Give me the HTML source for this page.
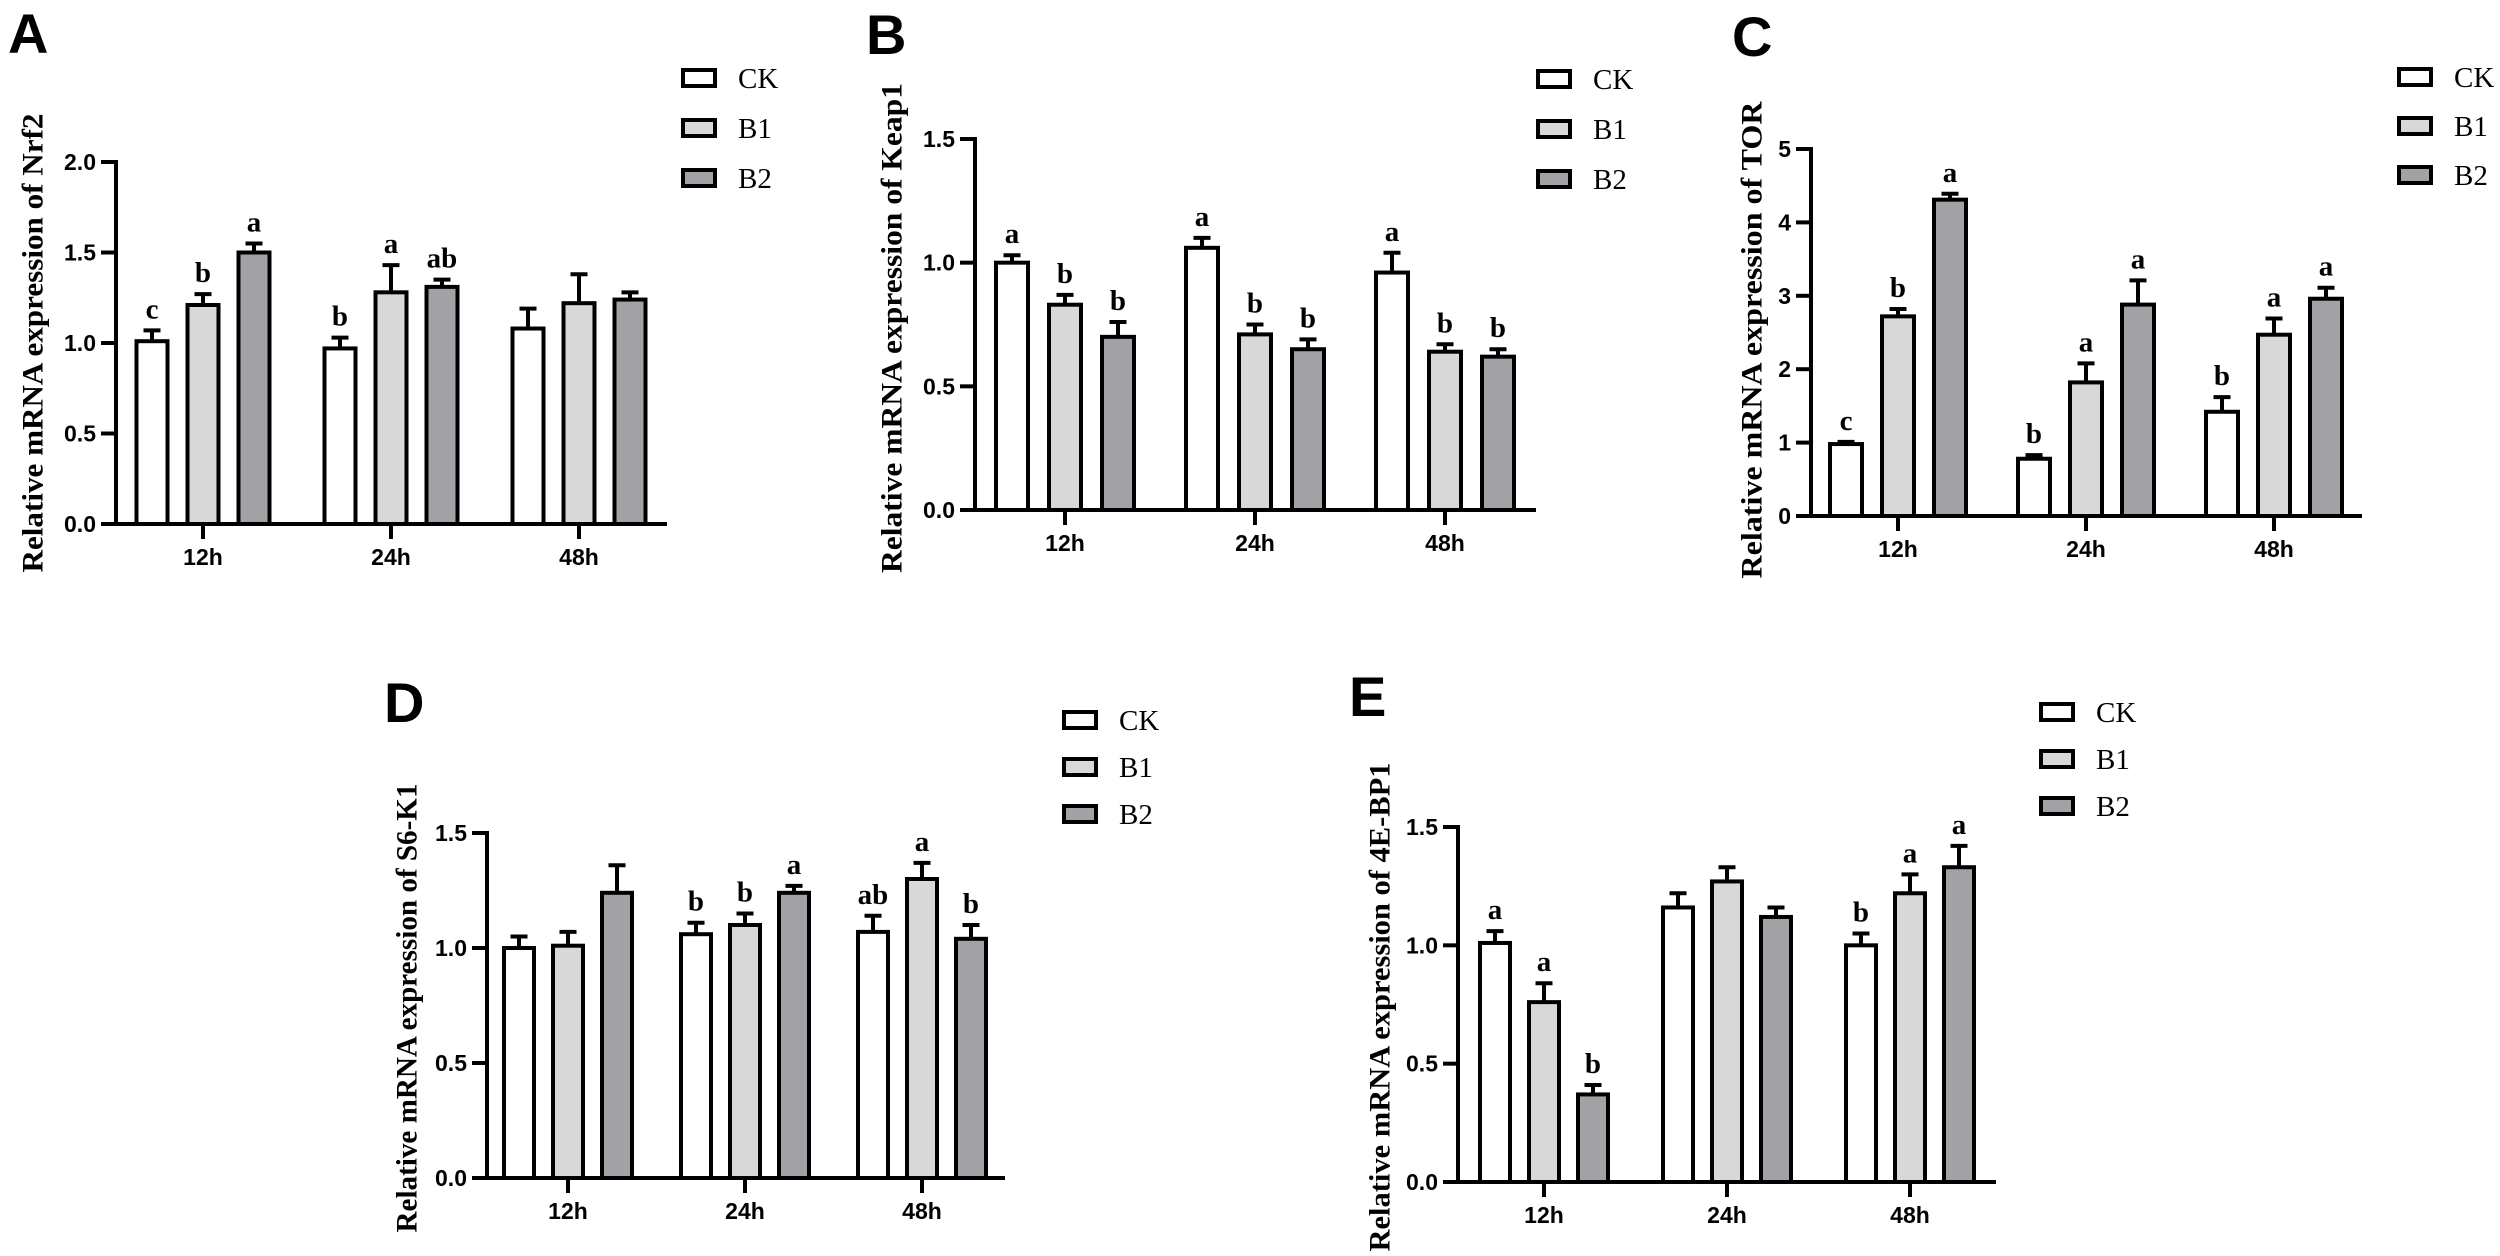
<!DOCTYPE html>
<html><head><meta charset="utf-8">
<style>
html,body{margin:0;padding:0;background:#fff;}
svg{display:block;}
.tick{font-family:"Liberation Sans",sans-serif;font-weight:bold;font-size:23px;}
.ttl{font-family:"Liberation Serif",serif;font-weight:bold;font-size:30px;}
.leg{font-family:"Liberation Serif",serif;font-size:29px;}
.sig{font-family:"Liberation Serif",serif;font-weight:bold;font-size:29px;}
.pl{font-family:"Liberation Sans",sans-serif;font-weight:bold;font-size:56px;}
</style></head>
<body>
<svg id="fig" width="2500" height="1256" viewBox="0 0 2500 1256" xmlns="http://www.w3.org/2000/svg"></svg>
<script>
const categories = ['12h','24h','48h'];
const seriesNames = ['CK','B1','B2'];
// Panel A: Nrf2
const nrf2Mean = [[1.01,1.21,1.50],[0.97,1.28,1.31],[1.08,1.22,1.24]];
const nrf2Err  = [[0.06,0.06,0.05],[0.06,0.15,0.04],[0.11,0.16,0.04]];
const nrf2Sig  = [['c','b','a'],['b','a','ab'],['','','']];
const nrf2Ticks = ['0.0','0.5','1.0','1.5','2.0'];
// Panel B: Keap1
const keap1Mean = [[1.00,0.83,0.70],[1.06,0.71,0.65],[0.96,0.64,0.62]];
const keap1Err  = [[0.03,0.04,0.06],[0.04,0.04,0.04],[0.08,0.03,0.03]];
const keap1Sig  = [['a','b','b'],['a','b','b'],['a','b','b']];
const keap1Ticks = ['0.0','0.5','1.0','1.5'];
// Panel C: TOR
const torMean = [[0.98,2.72,4.31],[0.78,1.82,2.88],[1.42,2.47,2.96]];
const torErr  = [[0.03,0.10,0.08],[0.05,0.26,0.33],[0.20,0.22,0.15]];
const torSig  = [['c','b','a'],['b','a','a'],['b','a','a']];
const torTicks = ['0','1','2','3','4','5'];
// Panel D: S6-K1
const s6k1Mean = [[1.00,1.01,1.24],[1.06,1.10,1.24],[1.07,1.30,1.04]];
const s6k1Err  = [[0.05,0.06,0.12],[0.05,0.05,0.03],[0.07,0.07,0.06]];
const s6k1Sig  = [['','',''],['b','b','a'],['ab','a','b']];
const s6k1Ticks = ['0.0','0.5','1.0','1.5'];
// Panel E: 4E-BP1
const bp1Mean = [[1.01,0.76,0.37],[1.16,1.27,1.12],[1.00,1.22,1.33]];
const bp1Err  = [[0.05,0.08,0.04],[0.06,0.06,0.04],[0.05,0.08,0.09]];
const bp1Sig  = [['a','a','b'],['','',''],['b','a','a']];
const bp1Ticks = ['0.0','0.5','1.0','1.5'];

const fills = ['#ffffff','#d8d8d8','#a2a1a6'];
const NS = 'http://www.w3.org/2000/svg';
const svg = document.getElementById('fig');
function mk(tag, attrs, parent, txt){
  const e = document.createElementNS(NS, tag);
  for (const k in attrs) e.setAttribute(k, attrs[k]);
  if (txt !== undefined) e.textContent = txt;
  parent.appendChild(e);
  return e;
}

function panel(cfg){
  const g = mk('g', {}, svg);
  
  
  const yMax = parseFloat(cfg.ticks[cfg.ticks.length-1]);
  const y = v => cfg.y0 - (v / yMax) * (cfg.y0 - cfg.yTop);
  const xg = i => cfg.g0 + i * cfg.gp;
  // panel letter
  const pl = mk('text', {x: cfg.lx, y: cfg.ly, class: 'pl'}, g, cfg.letter);
  
  
  // y title
  const tt = mk('text', {x: cfg.tx, y: cfg.ty, class: 'ttl', 'text-anchor': 'middle',
    transform: 'rotate(-90 ' + cfg.tx + ' ' + cfg.ty + ')', 'dominant-baseline': 'central',
    textLength: cfg.tl, lengthAdjust: 'spacingAndGlyphs'}, g, cfg.title);
  
  
  // bars
  for (let i = 0; i < categories.length; i++) {
    for (let s = 0; s < 3; s++) {
      const cx = xg(i) + (s - 1) * cfg.bp;
      const v = cfg.mean[i][s], e = cfg.err[i][s];
      const top = y(v);
      const bar = mk('rect', {x: cx - cfg.bw/2, y: top, width: cfg.bw, height: cfg.y0 - top,
        fill: fills[s], stroke: '#000', 'stroke-width': 4}, g);
      
      
      const et = y(v + e);
      const eb = mk('path', {d: 'M' + cx + ' ' + top + 'V' + et + 'M' + (cx - 8.5) + ' ' + et + 'H' + (cx + 8.5),
        stroke: '#000', 'stroke-width': 4, fill: 'none'}, g);
      
      
      if (cfg.sig[i][s]) {
        const st = mk('text', {x: cx, y: et - 12, class: 'sig', 'text-anchor': 'middle'}, g, cfg.sig[i][s]);
        
        
      }
    }
  }
  // axes
  const ya = mk('line', {x1: cfg.ax, y1: cfg.yTop - 2, x2: cfg.ax, y2: cfg.y0 + 2, stroke: '#000', 'stroke-width': 4}, g);
  
  
  const xa = mk('line', {x1: cfg.ax - 2, y1: cfg.y0, x2: cfg.axEnd, y2: cfg.y0, stroke: '#000', 'stroke-width': 4}, g);
  
  
  cfg.ticks.forEach(t => {
    const ty = y(parseFloat(t));
    mk('line', {x1: cfg.ax - 15, y1: ty, x2: cfg.ax, y2: ty, stroke: '#000', 'stroke-width': 4}, g);
    const tl = mk('text', {x: cfg.ax - 20, y: ty + 8, class: 'tick', 'text-anchor': 'end'}, g, t);
    
    
  });
  categories.forEach((c, i) => {
    mk('line', {x1: xg(i), y1: cfg.y0, x2: xg(i), y2: cfg.y0 + 15, stroke: '#000', 'stroke-width': 4}, g);
    const xl = mk('text', {x: xg(i), y: cfg.y0 + 41, class: 'tick', 'text-anchor': 'middle'}, g, c);
    
    
  });
  // legend
  seriesNames.forEach((n, s) => {
    const ry = cfg.legY + s * cfg.legDy;
    const le = mk('g', {}, g);
    
    
    mk('rect', {x: cfg.legX + 2, y: ry - 8, width: 32, height: 16, fill: fills[s], stroke: '#000', 'stroke-width': 4}, le);
    mk('text', {x: cfg.legX + 57, y: ry + 10, class: 'leg'}, le, n);
  });
}

panel({key:'nrf2', letter:'A', lx:8, ly:53, title:'Relative mRNA expression of Nrf2', tx:33, ty:343, tl:459,
  ax:116, axEnd:667, y0:524, yTop:162, g0:203, gp:188, bw:31, bp:51,
  mean:nrf2Mean, err:nrf2Err, sig:nrf2Sig, ticks:nrf2Ticks, legX:681, legY:78, legDy:50});
panel({key:'keap1', letter:'B', lx:866, ly:54, title:'Relative mRNA expression of Keap1', tx:892, ty:328, tl:490,
  ax:975, axEnd:1536, y0:510, yTop:139, g0:1065, gp:190, bw:32, bp:53,
  mean:keap1Mean, err:keap1Err, sig:keap1Sig, ticks:keap1Ticks, legX:1536, legY:79, legDy:50});
panel({key:'tor', letter:'C', lx:1732, ly:56, title:'Relative mRNA expression of TOR', tx:1752, ty:340, tl:477,
  ax:1811, axEnd:2362, y0:516, yTop:149, g0:1898, gp:188, bw:32, bp:52,
  mean:torMean, err:torErr, sig:torSig, ticks:torTicks, legX:2397, legY:77, legDy:49});
panel({key:'s6k1', letter:'D', lx:384, ly:722, title:'Relative mRNA expression of S6-K1', tx:407, ty:1008, tl:449,
  ax:487, axEnd:1005, y0:1178, yTop:833, g0:568, gp:177, bw:30, bp:49,
  mean:s6k1Mean, err:s6k1Err, sig:s6k1Sig, ticks:s6k1Ticks, legX:1062, legY:720, legDy:47});
panel({key:'4ebp1', letter:'E', lx:1349, ly:716, title:'Relative mRNA expression of 4E-BP1', tx:1380, ty:1007, tl:489,
  ax:1458, axEnd:1996, y0:1182, yTop:827, g0:1544, gp:183, bw:30, bp:49,
  mean:bp1Mean, err:bp1Err, sig:bp1Sig, ticks:bp1Ticks, legX:2039, legY:712, legDy:47});
</script>
</body></html>
